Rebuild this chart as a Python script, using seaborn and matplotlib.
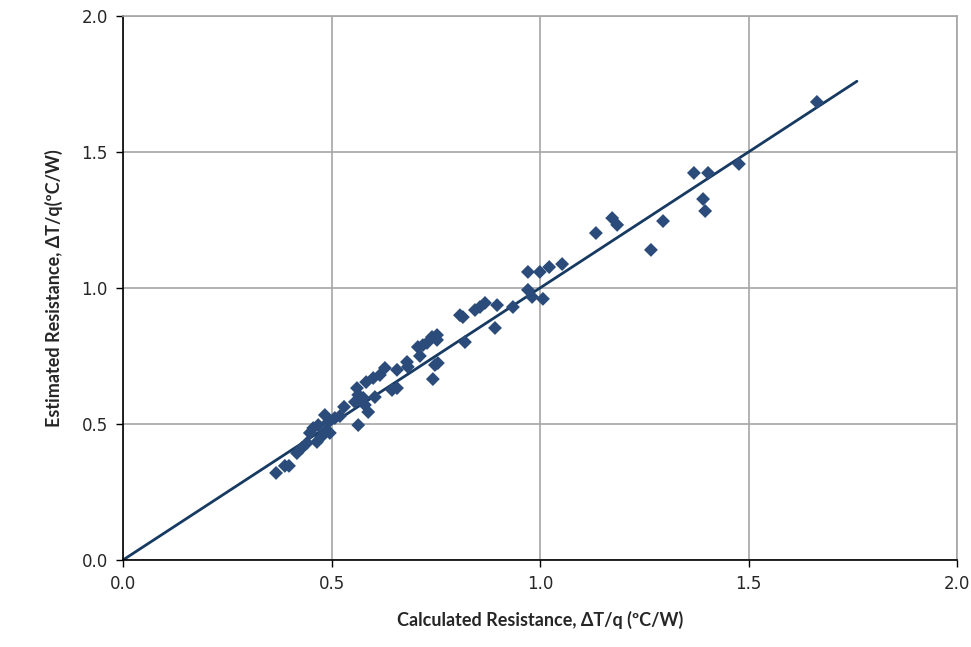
import matplotlib
matplotlib.use("Agg")
import matplotlib.pyplot as plt
import seaborn as sns
import pandas as pd

# calculated vs estimated resistance (degC/W)
calc = [0.367, 0.388, 0.398, 0.417, 0.429, 0.441, 0.448, 0.456, 0.468, 0.465,
        0.475, 0.484, 0.496, 0.484, 0.492, 0.508, 0.520, 0.530, 0.564, 0.556,
        0.568, 0.588, 0.580, 0.564, 0.561, 0.576, 0.604, 0.583, 0.600, 0.616,
        0.628, 0.645, 0.657, 0.657, 0.681, 0.683, 0.712, 0.707, 0.719, 0.729,
        0.743, 0.748, 0.741, 0.753, 0.753, 0.755, 0.820, 0.815, 0.808, 0.844,
        0.856, 0.868, 0.897, 0.892, 0.935, 0.971, 0.981, 1.007, 0.971, 0.9995,
        1.022, 1.053, 1.134, 1.173, 1.185, 1.266, 1.295, 1.369, 1.403, 1.391,
        1.396, 1.477, 1.664]
est = [0.320, 0.346, 0.346, 0.393, 0.412, 0.430, 0.467, 0.485, 0.496, 0.434,
       0.452, 0.471, 0.467, 0.533, 0.507, 0.522, 0.529, 0.563, 0.496, 0.581,
       0.599, 0.544, 0.570, 0.607, 0.632, 0.596, 0.599, 0.654, 0.669, 0.680,
       0.706, 0.625, 0.632, 0.699, 0.728, 0.710, 0.750, 0.783, 0.790, 0.798,
       0.665, 0.717, 0.820, 0.827, 0.809, 0.724, 0.801, 0.893, 0.900, 0.919,
       0.930, 0.945, 0.937, 0.853, 0.930, 0.993, 0.967, 0.960, 1.059, 1.059,
       1.077, 1.088, 1.202, 1.257, 1.232, 1.140, 1.246, 1.423, 1.423, 1.327,
       1.283, 1.456, 1.684]
fit_x = [0.0, 1.76]
fit_y = [0.0, 1.76]

df = pd.DataFrame({"calc": calc, "est": est})
fit = pd.DataFrame({"x": fit_x, "y": fit_y})

sns.set_style("white")
plt.rcParams["font.family"] = ["DejaVu Sans"]

fig = plt.figure(figsize=(9.71, 6.47), dpi=100)
ax = fig.add_axes([0.1267, 0.1345, 0.8589, 0.8408])

sns.lineplot(data=fit, x="x", y="y", ax=ax, color="#173A63", linewidth=2)
sns.scatterplot(data=df, x="calc", y="est", ax=ax, marker="D", s=50,
                color="#2B4C7A", edgecolor="none", zorder=3)

ax.set_xlim(0, 2)
ax.set_ylim(0, 2)
ticks = [0.0, 0.5, 1.0, 1.5, 2.0]
ax.set_xticks(ticks)
ax.set_yticks(ticks)
ax.set_xticklabels([f"{t:.1f}" for t in ticks])
ax.set_yticklabels([f"{t:.1f}" for t in ticks])
ax.grid(True, color="#A6A6A6", linewidth=1.2)
ax.set_axisbelow(True)
for s in ["top", "right"]:
    ax.spines[s].set_color("#A6A6A6")
    ax.spines[s].set_linewidth(1.2)
for s in ["left", "bottom"]:
    ax.spines[s].set_color("#000000")
    ax.spines[s].set_linewidth(1.2)
ax.tick_params(axis="both", direction="out", length=5, width=1, color="black",
               labelsize=12, pad=6, bottom=True, left=True)

ax.set_xlabel("Calculated Resistance, \u0394T/q (\u00baC/W)", fontsize=13,
              fontweight="bold", family=["Lato", "DejaVu Sans"], labelpad=13)
ax.set_ylabel("Estimated Resistance, \u0394T/q(\u00baC/W)", fontsize=13,
              fontweight="bold", family=["Lato", "DejaVu Sans"], labelpad=13)

fig.savefig("out.png", dpi=100)
